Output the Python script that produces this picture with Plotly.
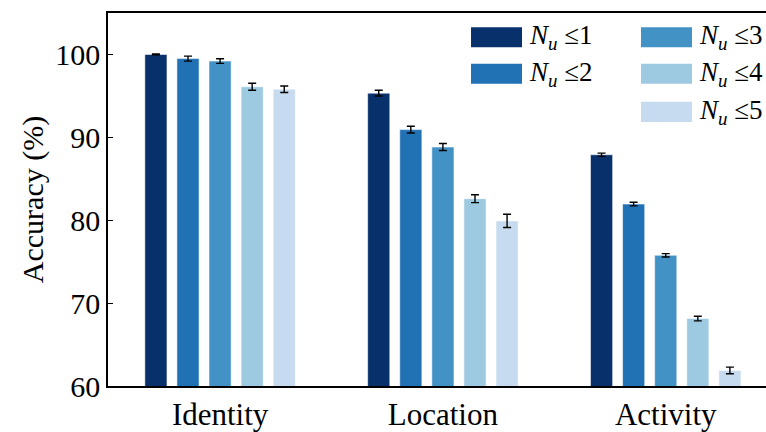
import plotly.graph_objects as go

categories = ["Identity", "Location", "Activity"]
series_names = ["<i>N</i><sub><i>u</i></sub> ≤1", "<i>N</i><sub><i>u</i></sub> ≤2",
                "<i>N</i><sub><i>u</i></sub> ≤3", "<i>N</i><sub><i>u</i></sub> ≤4",
                "<i>N</i><sub><i>u</i></sub> ≤5"]
colors = ["#08306b", "#2171b5", "#4292c6", "#9ecae1", "#c6dbef"]

acc_n1 = [100.0, 95.33, 87.9]
acc_n2 = [99.5, 90.93, 81.95]
acc_n3 = [99.2, 88.83, 75.77]
acc_n4 = [96.1, 82.6, 68.14]
acc_n5 = [95.8, 79.92, 61.88]

err_n1 = [0.05, 0.35, 0.2]
err_n2 = [0.3, 0.4, 0.22]
err_n3 = [0.28, 0.42, 0.2]
err_n4 = [0.42, 0.48, 0.28]
err_n5 = [0.4, 0.8, 0.4]

values = [acc_n1, acc_n2, acc_n3, acc_n4, acc_n5]
errors = [err_n1, err_n2, err_n3, err_n4, err_n5]

y_ticks = [60, 70, 80, 90, 100]

FONT = "Liberation Serif"

fig = go.Figure()
for name, col, v, e in zip(series_names, colors, values, errors):
    fig.add_trace(go.Bar(
        x=categories, y=v, name=name,
        marker=dict(color=col, line=dict(color="rgba(255,255,255,0.55)", width=1)),
        error_y=dict(type="data", array=e, color="black", thickness=1.4, width=4),
        showlegend=False,
    ))

# Custom legend (swatches + labels) laid out in two columns like the reference
legend_slots = [(0, 0), (0, 1), (1, 0), (1, 1), (1, 2)]  # (column, row)
col_x = [0.5517, 0.810]
row_y = [0.935, 0.837, 0.735]
sw_w = 0.0775
sw_h = 0.054
for (c, r), name, col in zip(legend_slots, series_names, colors):
    x0 = col_x[c]
    yc = row_y[r]
    fig.add_shape(type="rect", xref="paper", yref="paper",
                  x0=x0, x1=x0 + sw_w, y0=yc - sw_h / 2, y1=yc + sw_h / 2,
                  fillcolor=col, line=dict(width=0))
    fig.add_annotation(xref="paper", yref="paper", x=x0 + sw_w + 0.008, y=yc,
                       text=name, showarrow=False, xanchor="left", yanchor="middle",
                       font=dict(family=FONT, size=27, color="black"))

fig.update_layout(
    width=766, height=432,
    margin=dict(l=108, r=0, t=13, b=41),
    paper_bgcolor="white", plot_bgcolor="white",
    barmode="group", bargap=0.28, bargroupgap=0.31,
    font=dict(family=FONT, size=28, color="black"),
    xaxis=dict(range=[-0.503, 2.45], showline=True, linecolor="black", linewidth=1.5,
               mirror=True, ticks="", showgrid=False,
               tickfont=dict(family=FONT, size=31, color="black")),
    yaxis=dict(range=[60, 105], tickvals=y_ticks, showline=True, linecolor="black",
               linewidth=1.5, ticks="inside", ticklen=5, tickwidth=1.2, tickcolor="black",
               showgrid=False, zeroline=False,
               tickfont=dict(family=FONT, size=30, color="black"),
               title=dict(text="Accuracy (%)", font=dict(family=FONT, size=30, color="black"),
                          standoff=3)),
)

post = ("document.documentElement.style.margin='0';"
        "document.body.style.margin='0';"
        "document.body.style.overflow='hidden';"
        "document.documentElement.style.overflow='hidden';")
fig.write_html("out.html", post_script=post, config={"displayModeBar": False})
